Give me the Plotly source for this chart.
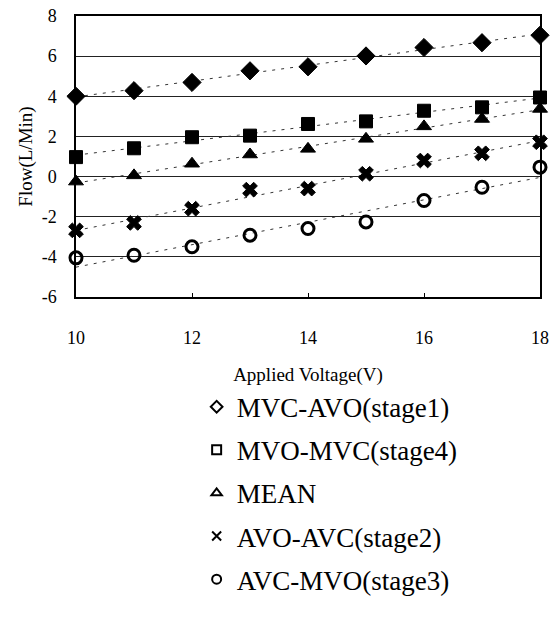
import numpy as np
import plotly.graph_objects as go

voltage = [10, 11, 12, 13, 14, 15, 16, 17, 18]
stage1_mvc_avo = [4.0, 4.28, 4.69, 5.27, 5.47, 6.01, 6.43, 6.67, 7.04]
stage4_mvo_mvc = [0.97, 1.41, 1.96, 2.04, 2.62, 2.75, 3.28, 3.45, 3.94]
mean_flow = [-0.25, 0.06, 0.64, 1.10, 1.38, 1.88, 2.50, 2.87, 3.37]
stage2_avo_avc = [-2.68, -2.31, -1.60, -0.65, -0.60, 0.14, 0.80, 1.16, 1.71]
stage3_avc_mvo = [-4.05, -3.92, -3.50, -2.92, -2.59, -2.26, -1.19, -0.53, 0.47]

names = ["MVC-AVO(stage1)", "MVO-MVC(stage4)", "MEAN", "AVO-AVC(stage2)", "AVC-MVO(stage3)"]
x_ticks = [10, 12, 14, 16, 18]
y_ticks = [-6, -4, -2, 0, 2, 4, 6, 8]
y_tick_labels = ["-6", "-4", "-2", "0", "2", "4", "6", "8"]

series = [stage1_mvc_avo, stage4_mvo_mvc, mean_flow, stage2_avo_avc, stage3_avc_mvo]
plot_symbols = ["diamond", "square", "triangle-up", "x", "circle-open"]
plot_sizes = [14, 13, 13, 13, 12]
legend_symbols = ["diamond-open", "square-open", "triangle-up-open", "x-thin-open", "circle-open"]

FONT = "Liberation Serif, Times New Roman, serif"
fig = go.Figure()

xv = np.array(voltage, dtype=float)
for i, ys in enumerate(series):
    yv = np.array(ys, dtype=float)
    k, b = np.polyfit(xv, yv, 1)
    fig.add_trace(go.Scatter(
        x=[xv.min(), xv.max()], y=[k * xv.min() + b, k * xv.max() + b],
        mode="lines", line=dict(color="#333", width=1, dash="3px,6px"),
        showlegend=False, hoverinfo="skip", cliponaxis=False))

for i, ys in enumerate(series):
    fig.add_trace(go.Scatter(
        x=voltage, y=ys, mode="markers",
        marker=dict(symbol=plot_symbols[i], size=plot_sizes[i], color="black",
                    line=dict(color="black", width=3 if i == 4 else 1)),
        showlegend=False, cliponaxis=False, name=names[i]))

for i, nm in enumerate(names):
    fig.add_trace(go.Scatter(
        x=[None], y=[None], mode="markers", name=nm, legendgroup=nm,
        marker=dict(symbol=legend_symbols[i], size=9, color="black",
                    line=dict(color="black", width=2))))

fig.update_layout(
    width=551, height=641,
    margin=dict(l=76, r=11, t=16, b=344),
    paper_bgcolor="white", plot_bgcolor="white",
    font=dict(family=FONT, color="black"),
    legend=dict(x=0.26, y=-0.305, xanchor="left", yanchor="top",
                font=dict(family=FONT, size=27), tracegroupgap=5,
                bgcolor="rgba(0,0,0,0)"),
    xaxis=dict(range=[10, 18], tickvals=x_ticks, ticks="inside", ticklen=4,
               tickcolor="black", showgrid=False, zeroline=False, automargin=False,
               ticklabeloverflow="allow",
               showline=True, mirror=True, linecolor="black", linewidth=1.5,
               tickfont=dict(family=FONT, size=18), ticklabelstandoff=24,
               title=dict(text="Applied Voltage(V)", font=dict(family=FONT, size=19), standoff=20)),
    yaxis=dict(range=[-6, 8], tickvals=y_ticks, ticktext=y_tick_labels, ticks="", showgrid=True,
               gridcolor="#222", gridwidth=1, zeroline=False, automargin=False,
               ticklabeloverflow="allow",
               showline=True, mirror=True, linecolor="black", linewidth=1.5,
               tickfont=dict(family=FONT, size=18), ticklabelstandoff=14,
               title=dict(text="Flow(L/Min)", font=dict(family=FONT, size=19), standoff=4)),
)

fig.write_html("out.html", config={"displayModeBar": False},
               post_script="document.body.style.margin='0';")
